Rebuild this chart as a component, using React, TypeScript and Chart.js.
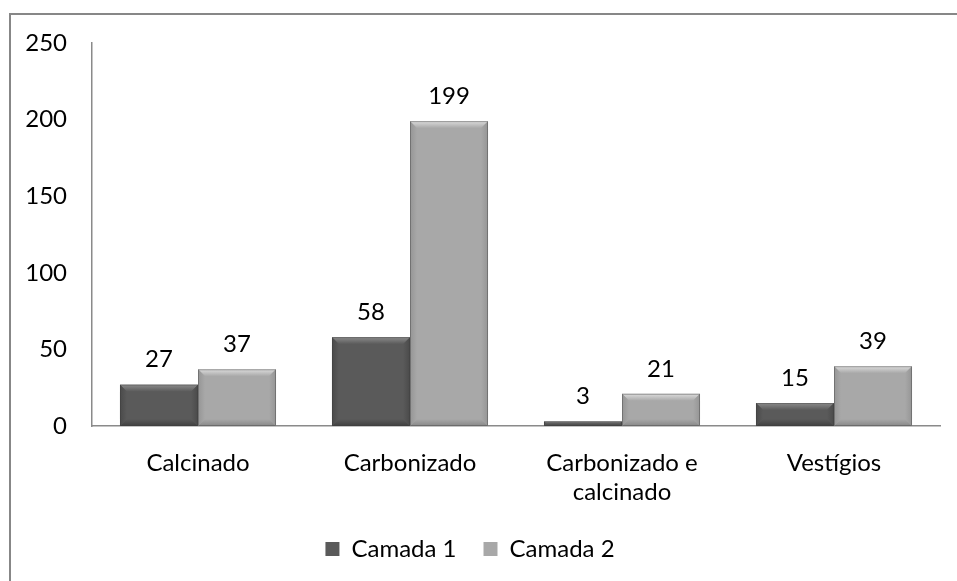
import React, { useEffect, useRef } from "react";
import { Chart, registerables } from "chart.js";

Chart.register(...registerables);

const categories: (string | string[])[] = ["Calcinado", "Carbonizado", ["Carbonizado e", "calcinado"], "Vestígios"];
const camada1: number[] = [27, 58, 3, 15];
const camada2: number[] = [37, 199, 21, 39];
const seriesNames: string[] = ["Camada 1", "Camada 2"];
const yTicks: number[] = [0, 50, 100, 150, 200, 250];

const FONT = "Lato, 'Open Sans', sans-serif";
const FS = 24;

const palettes = [
  { base: "#5a5a5a", top: "#8c8c8c", side: "#4a4a4a", bottom: "#404040" },
  { base: "#a8a8a8", top: "#dcdcdc", side: "#959595", bottom: "#888888" },
];

const bevelPlugin = {
  id: "bevel",
  afterDatasetsDraw(chart: any) {
    const ctx = chart.ctx;
    chart.data.datasets.forEach((ds: any, di: number) => {
      const meta = chart.getDatasetMeta(di);
      const pal = palettes[di];
      meta.data.forEach((el: any) => {
        const { x, y, base, width } = el.getProps(["x", "y", "base", "width"], true);
        const x0 = x - width / 2;
        const x1 = x + width / 2;
        const top = Math.min(y, base);
        const bot = Math.max(y, base);
        const h = bot - top;
        const b = Math.min(7, h / 2, width / 2);
        ctx.save();
        let g = ctx.createLinearGradient(0, top, 0, top + b);
        g.addColorStop(0, pal.top);
        g.addColorStop(1, pal.base);
        ctx.fillStyle = g;
        ctx.beginPath();
        ctx.moveTo(x0, top);
        ctx.lineTo(x1, top);
        ctx.lineTo(x1 - b, top + b);
        ctx.lineTo(x0 + b, top + b);
        ctx.closePath();
        ctx.fill();
        g = ctx.createLinearGradient(x0, 0, x0 + b, 0);
        g.addColorStop(0, pal.side);
        g.addColorStop(1, pal.base);
        ctx.fillStyle = g;
        ctx.beginPath();
        ctx.moveTo(x0, top);
        ctx.lineTo(x0 + b, top + b);
        ctx.lineTo(x0 + b, bot - b);
        ctx.lineTo(x0, bot);
        ctx.closePath();
        ctx.fill();
        g = ctx.createLinearGradient(x1, 0, x1 - b, 0);
        g.addColorStop(0, pal.side);
        g.addColorStop(1, pal.base);
        ctx.fillStyle = g;
        ctx.beginPath();
        ctx.moveTo(x1, top);
        ctx.lineTo(x1 - b, top + b);
        ctx.lineTo(x1 - b, bot - b);
        ctx.lineTo(x1, bot);
        ctx.closePath();
        ctx.fill();
        g = ctx.createLinearGradient(0, bot, 0, bot - b);
        g.addColorStop(0, pal.bottom);
        g.addColorStop(1, pal.base);
        ctx.fillStyle = g;
        ctx.beginPath();
        ctx.moveTo(x0, bot);
        ctx.lineTo(x1, bot);
        ctx.lineTo(x1 - b, bot - b);
        ctx.lineTo(x0 + b, bot - b);
        ctx.closePath();
        ctx.fill();
        ctx.strokeStyle = "rgba(60,60,60,0.4)";
        ctx.lineWidth = 1;
        ctx.strokeRect(x0 + 0.5, top + 0.5, width - 1, h - 1);
        ctx.restore();
      });
    });
  },
};

const labelPlugin = {
  id: "valueLabels",
  afterDatasetsDraw(chart: any) {
    const ctx = chart.ctx;
    ctx.save();
    ctx.font = `${FS}px ${FONT}`;
    ctx.fillStyle = "#000";
    ctx.textAlign = "center";
    ctx.textBaseline = "middle";
    chart.data.datasets.forEach((ds: any, di: number) => {
      const meta = chart.getDatasetMeta(di);
      meta.data.forEach((el: any, i: number) => {
        const { x, y } = el.getProps(["x", "y"], true);
        ctx.fillText(String(ds.data[i]), x, y - 25);
      });
    });
    ctx.restore();
  },
};

const borderPlugin = {
  id: "outerBorder",
  afterDraw(chart: any) {
    const ctx = chart.ctx;
    ctx.save();
    ctx.strokeStyle = "#878787";
    ctx.lineWidth = 2;
    ctx.strokeRect(10, 14, 2000, 2000);
    ctx.restore();
  },
};

export default function App() {
  const ref = useRef<HTMLCanvasElement | null>(null);
  useEffect(() => {
    if (!ref.current) return;
    const chart = new Chart(ref.current, {
      type: "bar",
      data: {
        labels: categories,
        datasets: [
          {
            label: seriesNames[0],
            data: camada1,
            backgroundColor: palettes[0].base,
            borderWidth: 0,
            categoryPercentage: 0.736,
            barPercentage: 1,
          },
          {
            label: seriesNames[1],
            data: camada2,
            backgroundColor: palettes[1].base,
            borderWidth: 0,
            categoryPercentage: 0.736,
            barPercentage: 1,
          },
        ],
      },
      options: {
        animation: false,
        responsive: false,
        maintainAspectRatio: false,
        layout: { padding: { left: 0, top: 43, right: 17, bottom: 10 } },
        plugins: {
          tooltip: { enabled: false },
          legend: {
            position: "bottom",
            labels: {
              color: "#000",
              font: { family: FONT, size: FS },
              boxWidth: 14,
              boxHeight: 14,
              padding: 27,
            },
          },
        },
        scales: {
          x: {
            grid: { display: false, drawTicks: false, tickLength: 0 },
            border: { display: true, color: "#8a8a8a", width: 1.5 },
            ticks: { color: "#000", font: { family: FONT, size: FS }, padding: 23, maxRotation: 0 },
            afterFit(scale: any) {
              scale.height = 84;
            },
          },
          y: {
            min: 0,
            max: 250,
            afterBuildTicks(scale: any) {
              scale.ticks = yTicks.map((v) => ({ value: v }));
            },
            grid: { display: false, drawTicks: false, tickLength: 0 },
            border: { display: true, color: "#8a8a8a", width: 1.5 },
            ticks: { color: "#000", font: { family: FONT, size: FS }, padding: 25 },
            afterFit(scale: any) {
              scale.width = 92;
            },
          },
        },
      },
      plugins: [bevelPlugin, labelPlugin, borderPlugin],
    } as any);
    return () => chart.destroy();
  }, []);
  return (
    <div style={{ position: "absolute", left: 0, top: 0, width: 957, height: 581, background: "#fff" }}>
      <canvas ref={ref} width={957} height={581} style={{ display: "block" }} />
    </div>
  );
}
